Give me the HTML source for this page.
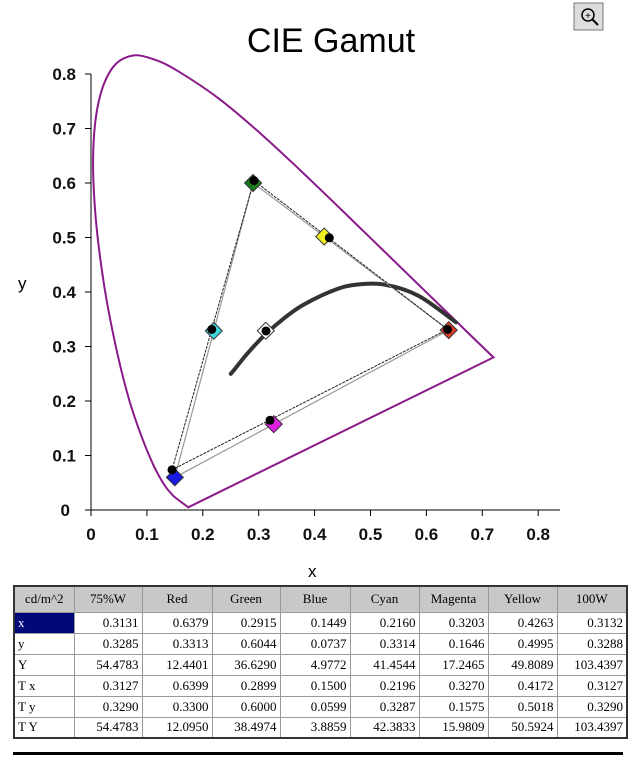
<!DOCTYPE html>
<html><head><meta charset="utf-8"><style>
body{margin:0;width:640px;height:764px;background:#fff;overflow:hidden;position:relative;font-family:"Liberation Sans",sans-serif}
svg{position:absolute;left:0;top:0}
table{position:absolute;left:13px;top:585px;border-collapse:collapse;border:2px solid #333;font-family:"Liberation Serif",serif;font-size:13px}
td{border:1px solid #999;height:21px;padding:0 3px;text-align:right;box-sizing:border-box}
tr:first-child td{background:#c8c8c8;text-align:center;height:26px}
td:first-child{text-align:left}
</style></head><body>
<svg width="640" height="764" id="s">
<text x="331" y="52" font-size="34" text-anchor="middle" font-family="Liberation Sans">CIE Gamut</text>
<rect x="574" y="3" width="29" height="27" fill="#ddd" stroke="#777"/>
<circle cx="588" cy="15" r="6" fill="none" stroke="#000" stroke-width="1.5"/>
<line x1="592" y1="19" x2="598" y2="25" stroke="#000" stroke-width="2"/>
<text x="588" y="19" font-size="10" text-anchor="middle">+</text>
<line x1="91" y1="74" x2="91" y2="511" stroke="#000"/>
<line x1="91" y1="510" x2="560" y2="510" stroke="#000"/>
<text x="18" y="289" font-size="17">y</text>
<text x="308" y="577" font-size="17">x</text>
<g id="ax" font-size="17" font-weight="bold" fill="#111"></g>
<path id="loc" fill="none" stroke="#8a1a8a" stroke-width="2"/>
<path id="pl" fill="none" stroke="#333" stroke-width="4" stroke-linecap="round"/>
<g id="g"></g>
</svg>
<table>
<tr><td style="width:60px">cd/m^2</td><td style="width:68px">75%W</td><td style="width:70px">Red</td><td style="width:68px">Green</td><td style="width:70px">Blue</td><td style="width:69px">Cyan</td><td style="width:69px">Magenta</td><td style="width:69px">Yellow</td><td style="width:70px">100W</td></tr>
<tr><td style="background:#00087a;color:#fff">x</td><td>0.3131</td><td>0.6379</td><td>0.2915</td><td>0.1449</td><td>0.2160</td><td>0.3203</td><td>0.4263</td><td>0.3132</td></tr>
<tr><td>y</td><td>0.3285</td><td>0.3313</td><td>0.6044</td><td>0.0737</td><td>0.3314</td><td>0.1646</td><td>0.4995</td><td>0.3288</td></tr>
<tr><td>Y</td><td>54.4783</td><td>12.4401</td><td>36.6290</td><td>4.9772</td><td>41.4544</td><td>17.2465</td><td>49.8089</td><td>103.4397</td></tr>
<tr><td>T x</td><td>0.3127</td><td>0.6399</td><td>0.2899</td><td>0.1500</td><td>0.2196</td><td>0.3270</td><td>0.4172</td><td>0.3127</td></tr>
<tr><td>T y</td><td>0.3290</td><td>0.3300</td><td>0.6000</td><td>0.0599</td><td>0.3287</td><td>0.1575</td><td>0.5018</td><td>0.3290</td></tr>
<tr><td>T Y</td><td>54.4783</td><td>12.0950</td><td>38.4974</td><td>3.8859</td><td>42.3833</td><td>15.9809</td><td>50.5924</td><td>103.4397</td></tr>
</table>
<div style="position:absolute;left:13px;top:752px;width:610px;height:3px;background:#000"></div>
<script>
var X=function(x){return 91+559*x},Y=function(y){return 510-545*y};
var ax=document.getElementById('ax'),h='';
for(var i=0;i<=8;i++){var v=i==0?'0':(i/10).toFixed(1);
h+='<text x="'+(X(i/10))+'" y="540" text-anchor="middle">'+v+'</text>';
h+='<text x="'+(i==0?70:76)+'" y="'+(Y(i/10)+6)+'" text-anchor="end">'+v+'</text>';
h+='<line x1="85" x2="91" y1="'+Y(i/10)+'" y2="'+Y(i/10)+'" stroke="#000"/>';
h+='<line y1="510" y2="516" x1="'+X(i/10)+'" x2="'+X(i/10)+'" stroke="#000"/>';}
ax.innerHTML=h;
var L=[[.1741,.005],[.1510,.0227],[.1440,.0297],[.1355,.0399],[.1241,.0578],[.1096,.0868],[.0913,.1327],[.0687,.2007],[.0454,.295],[.0235,.4127],[.0082,.5384],[.0039,.6548],[.0139,.7502],[.0389,.812],[.0743,.8338],[.1142,.8262],[.1547,.8059],[.2296,.7543],[.3016,.6923],[.3731,.6245],[.4441,.5547],[.5125,.4866],[.5752,.4242],[.627,.3725],[.6915,.3083],[.7200,.2800]];
function S(a){var p=a.map(function(q){return [X(q[0]),Y(q[1])]});var d='M'+p[0][0].toFixed(1)+' '+p[0][1].toFixed(1);
for(var i=0;i<p.length-1;i++){var p0=p[i-1]||p[i],p1=p[i],p2=p[i+1],p3=p[i+2]||p2;
d+='C'+(p1[0]+(p2[0]-p0[0])/6).toFixed(1)+' '+(p1[1]+(p2[1]-p0[1])/6).toFixed(1)+' '+(p2[0]-(p3[0]-p1[0])/6).toFixed(1)+' '+(p2[1]-(p3[1]-p1[1])/6).toFixed(1)+' '+p2[0].toFixed(1)+' '+p2[1].toFixed(1);}
return d;}
function P(a){return a.map(function(p,i){return (i?'L':'M')+X(p[0]).toFixed(1)+' '+Y(p[1]).toFixed(1)}).join('')}
document.getElementById('loc').setAttribute('d',S(L)+'Z');
var pl=[[.25,.25],[.2565,.2577],[.2807,.2883],[.3135,.3236],[.3451,.3516],[.3805,.3768],[.4369,.4041],[.477,.4137],[.5267,.4133],[.5857,.3931],[.6528,.3444]];
document.getElementById('pl').setAttribute('d',S(pl));
var m={W:[.3131,.3285],R:[.6379,.3313],G:[.2915,.6044],B:[.1449,.0737],C:[.216,.3314],M:[.3203,.1646],Yl:[.4263,.4995]};
var t={W:[.3127,.329,'#fff'],R:[.6399,.33,'#e03a2a'],G:[.2899,.6,'#1a7a1a'],B:[.15,.0599,'#1a1ae0'],C:[.2196,.3287,'#40d8e0'],M:[.327,.1575,'#e020e0'],Yl:[.4172,.5018,'#f0f020']};
var g='';
g+='<path d="'+P([t.R,t.G,t.B])+'Z" fill="none" stroke="#999" stroke-width="1.2"/>';
g+='<path d="'+P([m.R,m.G,m.B])+'Z" fill="none" stroke="#222" stroke-width="1" stroke-dasharray="3,1"/>';
for(var k in t){var x=X(t[k][0]),y=Y(t[k][1]);
g+='<rect x="'+(x-6)+'" y="'+(y-6)+'" width="12" height="12" fill="'+t[k][2]+'" stroke="#333" transform="rotate(45 '+x+' '+y+')"/>';}
for(var k in m){g+='<circle cx="'+X(m[k][0])+'" cy="'+Y(m[k][1])+'" r="4.5" fill="#000"/>';}
document.getElementById('g').innerHTML=g;
</script>
</body></html>
